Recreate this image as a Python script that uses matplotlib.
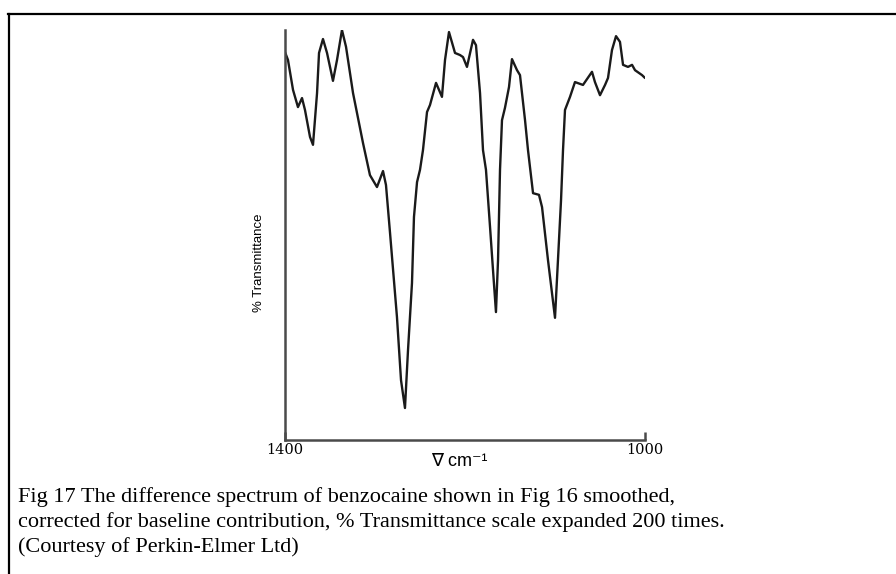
import matplotlib
matplotlib.use("Agg")
import matplotlib.pyplot as plt
from matplotlib.lines import Line2D

# ---- Spectrum (wavenumber in cm-1, % transmittance, expanded scale) ----
wavenumber = [1400.0, 1396.7, 1391.1, 1385.6, 1381.1, 1377.8, 1372.2, 1368.9,
              1364.4, 1362.2, 1357.8, 1353.3, 1346.7, 1342.2, 1336.7, 1332.2,
              1324.4, 1313.3, 1305.6, 1297.8, 1291.1, 1287.8, 1283.3, 1275.6,
              1271.1, 1266.7, 1263.3, 1258.9, 1256.7, 1253.3, 1250.0, 1246.7,
              1242.2, 1238.9, 1232.2, 1225.6, 1222.2, 1217.8, 1211.1, 1205.6,
              1202.2, 1197.8, 1191.1, 1187.8, 1183.3, 1180.0, 1176.7, 1172.2,
              1168.9, 1165.6, 1163.3, 1161.1, 1158.9, 1155.6, 1151.1, 1147.8,
              1142.2, 1138.9, 1133.3, 1130.0, 1124.4, 1117.8, 1114.4, 1107.8,
              1100.0, 1096.7, 1093.3, 1091.1, 1088.9, 1083.3, 1077.8, 1068.9,
              1058.9, 1055.6, 1050.0, 1044.4, 1041.1, 1036.7, 1032.2, 1027.8,
              1024.4, 1018.9, 1014.4, 1011.1, 1003.3, 1000.0]
transmittance = [94.6, 92.7, 85.4, 81.2, 83.4, 80.5, 73.9, 72.0,
                 84.6, 94.4, 97.8, 94.4, 87.6, 92.7, 100.0, 95.9,
                 84.6, 72.4, 64.6, 61.7, 65.6, 62.2, 50.5, 30.0,
                 14.6, 7.8, 22.0, 38.3, 54.4, 62.9, 65.9, 70.7,
                 80.0, 81.7, 87.1, 83.7, 92.7, 99.5, 94.4, 93.9,
                 93.4, 91.0, 97.6, 96.3, 84.6, 70.7, 65.9, 52.0,
                 41.5, 31.2, 43.9, 65.9, 78.0, 81.0, 86.1, 92.9,
                 90.2, 89.0, 78.0, 70.7, 60.2, 59.8, 56.8, 43.9,
                 29.8, 43.9, 58.5, 70.7, 80.5, 83.7, 87.3, 86.6,
                 89.8, 87.3, 84.1, 86.6, 88.3, 95.1, 98.5, 97.1,
                 91.5, 91.0, 91.5, 90.2, 89.0, 88.3]

tick_values = [1400, 1000]
tick_labels = ["1400", "1000"]

caption_lines = [
    "Fig 17 The difference spectrum of benzocaine shown in Fig 16 smoothed,",
    "corrected for baseline contribution, % Transmittance scale expanded 200 times.",
    "(Courtesy of Perkin-Elmer Ltd)",
]

W, H = 896, 574
fig = plt.figure(figsize=(W / 100, H / 100), dpi=100)
fig.patch.set_facecolor("white")

# axes box in pixels: x 285..645, y 30..440 (from top)
ax = fig.add_axes([285 / W, 1 - 440 / H, 360 / W, 410 / H])
ax.plot(wavenumber, transmittance, color="#1a1a1a", linewidth=1.7,
        solid_joinstyle="round", solid_capstyle="round")
ax.set_xlim(1400, 1000)
ax.set_ylim(0, 100)

for side in ["top", "right"]:
    ax.spines[side].set_visible(False)
for side in ["left", "bottom"]:
    ax.spines[side].set_color("#4a4a4a")
    ax.spines[side].set_linewidth(1.8)

ax.set_yticks([])
ax.set_xticks(tick_values)
ax.set_xticklabels(tick_labels, family="DejaVu Serif", fontsize=10.5)
ax.tick_params(axis="x", direction="in", length=6, width=1.8,
               color="#4a4a4a", pad=2)

ax.set_xlabel("∇ cm⁻¹", family=["Liberation Sans", "DejaVu Sans"],
              fontsize=13)
ax.xaxis.set_label_coords((459 - 285) / 360, -(462 - 440) / 410)
ax.xaxis.label.set_va("center")
ax.set_ylabel("% Transmittance", family="Liberation Sans", fontsize=9.5)
ax.yaxis.set_label_coords(-(285 - 259) / 360, (440 - 263) / 410)
ax.yaxis.label.set_va("center")

# caption under the plot, one line at a time
for i, line in enumerate(caption_lines):
    fig.text(18 / W, 1 - (497 + 25 * i) / H, line, family="Liberation Serif",
             fontsize=16, va="center", ha="left")

# frame lines (top and left)
fig.add_artist(Line2D([8 / W, 1.0], [1 - 14 / H, 1 - 14 / H],
                      transform=fig.transFigure, color="black", linewidth=1.6))
fig.add_artist(Line2D([8.5 / W, 8.5 / W], [1 - 14 / H, 0.0],
                      transform=fig.transFigure, color="black", linewidth=1.6))

fig.savefig("out.png", dpi=100)
